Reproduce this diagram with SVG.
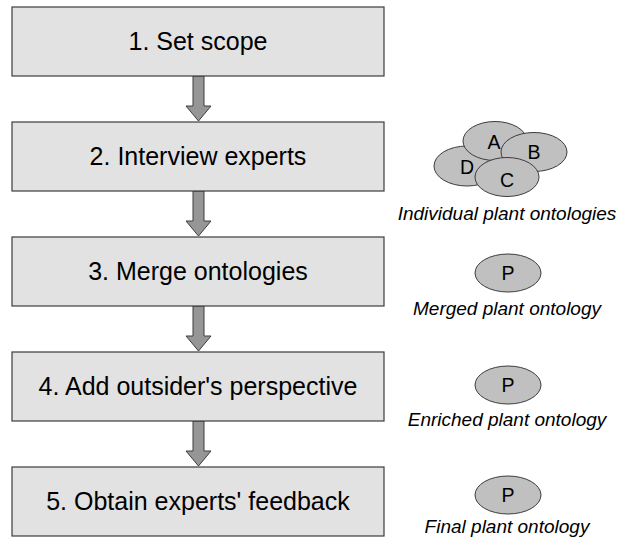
<svg xmlns="http://www.w3.org/2000/svg" width="618" height="540" viewBox="0 0 618 540">
<style>
.box{fill:#e2e2e2;stroke:#3c3c3c;stroke-width:1.2}
.bt{font-family:"Liberation Sans",Arial,sans-serif;font-size:25px;fill:#000;text-anchor:middle}
.arr{fill:#969696;stroke:#3c3c3c;stroke-width:1}
.el{fill:#c0c0c0;stroke:#3c3c3c;stroke-width:1}
.et{font-family:"Liberation Sans",Arial,sans-serif;font-size:19.5px;fill:#000;text-anchor:middle}
.lb{font-family:"Liberation Sans",Arial,sans-serif;font-size:19px;font-style:italic;fill:#000;text-anchor:middle}
</style>
<rect width="618" height="540" fill="#fff"/>
<g id="connectors">
<path class="arr" d="M193,76 H204 V106 H211 L198.5,121 L186,106 H193 Z"/>
<path class="arr" d="M193,191 H204 V221 H211 L198.5,236 L186,221 H193 Z"/>
<path class="arr" d="M193,306 H204 V336 H211 L198.5,351 L186,336 H193 Z"/>
<path class="arr" d="M193,421 H204 V451 H211 L198.5,466 L186,451 H193 Z"/>
</g>
<g id="step1"><rect class="box" x="12" y="7" width="372" height="69"/><text class="bt" x="198" y="50">1. Set scope</text></g>
<g id="step2"><rect class="box" x="12" y="122" width="372" height="69"/><text class="bt" x="198" y="165">2. Interview experts</text></g>
<g id="step3"><rect class="box" x="12" y="237" width="372" height="69"/><text class="bt" x="198" y="280">3. Merge ontologies</text></g>
<g id="step4"><rect class="box" x="12" y="352" width="372" height="69"/><text class="bt" x="198" y="395">4. Add outsider's perspective</text></g>
<g id="step5"><rect class="box" x="12" y="467" width="372" height="69"/><text class="bt" x="198" y="510">5. Obtain experts' feedback</text></g>
<g id="individual">
<ellipse class="el" cx="467" cy="166" rx="33" ry="20"/>
<ellipse class="el" cx="495" cy="141" rx="32" ry="19.5"/>
<ellipse class="el" cx="534" cy="152" rx="33" ry="19.5"/>
<ellipse class="el" cx="507" cy="177" rx="32" ry="19.5"/>
<text class="et" x="494" y="149">A</text>
<text class="et" x="534" y="159">B</text>
<text class="et" x="507" y="187">C</text>
<text class="et" x="467" y="174">D</text>
<text class="lb" x="507" y="220">Individual plant ontologies</text>
</g>
<g id="merged"><ellipse class="el" cx="508" cy="273" rx="33" ry="19"/><text class="et" x="508" y="280">P</text><text class="lb" x="507" y="315">Merged plant ontology</text></g>
<g id="enriched"><ellipse class="el" cx="508" cy="385" rx="33" ry="19"/><text class="et" x="508" y="392">P</text><text class="lb" x="507" y="426">Enriched plant ontology</text></g>
<g id="final"><ellipse class="el" cx="508" cy="495" rx="33" ry="19"/><text class="et" x="508" y="502">P</text><text class="lb" x="507" y="533">Final plant ontology</text></g>
</svg>
